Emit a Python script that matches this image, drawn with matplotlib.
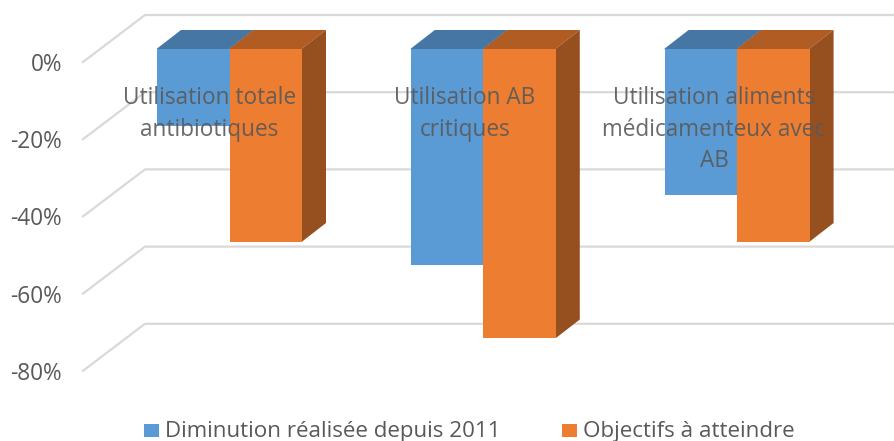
import matplotlib.pyplot as plt
from matplotlib.patches import Polygon, Rectangle

plt.rcParams["font.family"] = ["Open Sans", "DejaVu Sans"]

categories = [
    "Utilisation totale\nantibiotiques",
    "Utilisation AB\ncritiques",
    "Utilisation aliments\nmédicamenteux avec\nAB",
]
diminution = [-20, -56, -38]
objectifs = [-50, -75, -50]
ticks = [0, -20, -40, -60, -80]
series_names = ["Diminution réalisée depuis 2011", "Objectifs à atteindre"]

W, H = 894, 441
PX_PER_PCT = 3.86
BAR_W = 72.5
CAT_STEP = 253.8
ZERO_Y = 48.6
FIRST_X = 229.5
TEXT_COLOR = "#595959"
GRID_COLOR = "#D9D9D9"

fig = plt.figure(figsize=(W / 100, H / 100), dpi=100)
ax = fig.add_axes([0, 0, 1, 1])
ax.set_xlim(-FIRST_X / CAT_STEP, (W - FIRST_X) / CAT_STEP)
ax.set_ylim(-(H - ZERO_Y) / PX_PER_PCT, ZERO_Y / PX_PER_PCT)
ax.axis("off")


def dx(px):
    return px / CAT_STEP


def dy(px):
    return px / PX_PER_PCT


# back grid and the slanted part going to the labels
for t in ticks:
    back_x = -FIRST_X / CAT_STEP + dx(145)
    front_x = -FIRST_X / CAT_STEP + dx(83)
    back_y = t + dy(33.6)
    front_y = t - dy(13.4)
    ax.plot(
        [front_x, back_x, ax.get_xlim()[1]],
        [front_y, back_y, back_y],
        color=GRID_COLOR,
        lw=1.6,
        zorder=1,
        solid_joinstyle="miter",
    )
    ax.text(
        front_x - dx(21),
        front_y - dy(3),
        f"{t}%",
        ha="right",
        va="center",
        fontsize=16.3,
        color=TEXT_COLOR,
    )


def bar_3d(x0, value, front, top, side):
    w = dx(BAR_W)
    ox, oy = dx(24), dy(18.6)
    ax.bar(x0, value, w, align="edge", color=front, linewidth=0, zorder=3)
    # top face runs a little under the front one so no seam shows
    ax.add_patch(
        Polygon(
            [(x0, -dy(1)), (x0, 0), (x0 + ox, oy), (x0 + w + ox, oy), (x0 + w, 0), (x0 + w, -dy(1))],
            facecolor=top,
            edgecolor="none",
            zorder=2,
        )
    )
    ax.add_patch(
        Polygon(
            [(x0 + w, 0), (x0 + w + ox, oy), (x0 + w + ox, value + oy), (x0 + w, value)],
            facecolor=side,
            edgecolor="none",
            zorder=2,
        )
    )


for i in range(len(categories)):
    bar_3d(i - dx(BAR_W), diminution[i], "#5B9BD5", "#4676A3", "#41719C")
    bar_3d(i, objectifs[i], "#ED7D31", "#B05C22", "#964F1E")

# category labels sit on top of the bars
label_x = [209.5, 465, 714]
for x, name in zip(label_x, categories):
    ax.text(
        -FIRST_X / CAT_STEP + dx(x),
        dy(ZERO_Y - 86),
        name,
        ha="center",
        va="top",
        fontsize=16.3,
        color=TEXT_COLOR,
        alpha=0.9,
        linespacing=1.42,
        zorder=5,
    )

# legend
legend_items = [(144, "#5B9BD5", series_names[0]), (562, "#ED7D31", series_names[1])]
for x, color, name in legend_items:
    ax.add_patch(
        Rectangle(
            (-FIRST_X / CAT_STEP + dx(x), dy(ZERO_Y - 437)),
            dx(15),
            dy(13),
            facecolor=color,
            edgecolor="none",
            zorder=4,
        )
    )
    ax.text(
        -FIRST_X / CAT_STEP + dx(x + 21),
        dy(ZERO_Y - 432),
        name,
        ha="left",
        va="center",
        fontsize=16.1,
        color=TEXT_COLOR,
    )

fig.savefig("out.png", dpi=100)
plt.close()
